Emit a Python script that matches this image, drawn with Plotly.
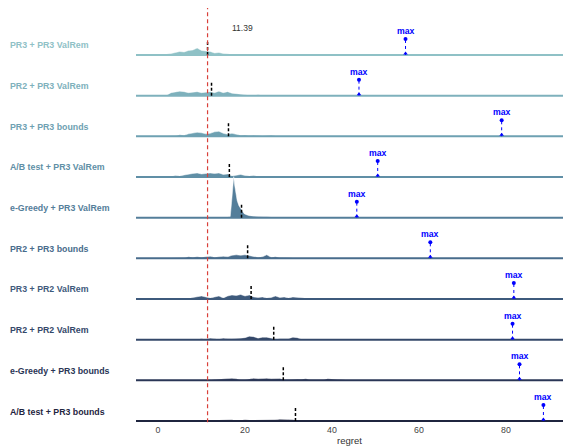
import plotly.graph_objects as go

# ---------------- data ----------------
labels = [
    "PR3 + PR3 ValRem", "PR2 + PR3 ValRem", "PR3 + PR3 bounds", "A/B test + PR3 ValRem",
    "e-Greedy + PR3 ValRem", "PR2 + PR3 bounds", "PR3 + PR2 ValRem", "PR2 + PR2 ValRem",
    "e-Greedy + PR3 bounds", "A/B test + PR3 bounds",
]
row_colors = ["#8fc1c6", "#7eb1bc", "#6ea1b2", "#608fa6", "#547e9a",
              "#486c8c", "#3e5a7c", "#34486a", "#2a3656", "#1f253f"]
mean_regret = [11.39, 12.3, 16.2, 16.4, 19.2, 20.6, 21.4, 26.6, 28.8, 31.6]
max_regret = [56.9, 46.2, 79.0, 50.5, 45.7, 62.6, 81.8, 81.5, 83.1, 88.6]
tick_values = [0, 20, 40, 60, 80]

# relative density (shared regret grid 0..46)
regret_grid = list(range(47))
dens_pr3_pr3_valrem = [0, 0.3, 1, 1.5, 2.5, 3.5, 3, 4.5, 5, 7, 4.5, 4, 3.5, 2, 2.5, 1.5, 1, 1.2, 0.5, 0.8,
                       0.4, 1, 0.2, 0, 0.3, 0, 0, 0, 0, 0, 0, 0, 0, 0, 0, 0, 0, 0, 0, 0,
                       0, 0, 0, 0, 0, 0, 0]
dens_pr2_pr3_valrem = [0, 0, 0.5, 3, 3.5, 4.5, 4, 3, 3.5, 4, 3, 3.5, 4, 3, 4.5, 3, 4, 2.5, 2, 1,
                       0.5, 0.5, 0.3, 0.8, 0.3, 0.2, 0.5, 0.2, 0.3, 0, 0, 0, 0, 0, 0, 0, 0, 0, 0, 0,
                       0, 0, 0, 0, 0, 0, 0]
dens_pr3_pr3_bounds = [0, 0, 0, 0, 0.5, 1.5, 1, 2.5, 3, 4, 3.5, 2.5, 3, 4.5, 5, 3, 2, 3, 2, 1,
                       1.2, 0.7, 1, 0.5, 0.3, 0.5, 1, 0.3, 0.2, 0, 0, 0, 0, 0, 0, 0, 0, 0, 0, 0,
                       0, 0, 0, 0, 0, 0, 0]
dens_ab_pr3_valrem = [0, 0, 0, 0.5, 1.5, 1, 2, 3, 3.5, 4, 3, 3.5, 4, 3.5, 4, 2.5, 3, 1, 2, 2.5,
                      1.5, 1, 1.5, 0.5, 0.3, 0.5, 0.2, 0.3, 0, 0, 0, 0, 0, 0, 0, 0, 0, 0, 0, 0,
                      0, 0, 0, 0, 0, 0, 0]
dens_pr2_pr3_bounds = [0, 0, 0, 0, 0, 0, 0.5, 1.5, 1, 1.5, 1, 1.5, 2, 1, 1.5, 2, 1.5, 3, 3.5, 3,
                       3.5, 2.5, 2, 1, 1.5, 3.5, 1, 1.5, 0.8, 0.3, 0.5, 0.2, 0.3, 0.2, 0.3, 0.1, 0, 0, 0, 0,
                       0, 0, 0, 0, 0, 0, 0]
dens_pr3_pr2_valrem = [0, 0, 0, 0, 0, 0, 0, 0.5, 1.5, 2.5, 3, 2, 1, 2, 3, 1, 3, 4, 3.5, 4.5,
                       3, 4, 2, 1.5, 2, 1, 1.5, 3, 1.5, 2, 1, 2, 1.5, 0.8, 0.8, 0.5, 0.7, 0.3, 0.3, 0.2,
                       0.3, 0.1, 0.2, 0.3, 0.3, 0, 0]
dens_pr2_pr2_valrem = [0, 0, 0, 0, 0, 0, 0, 0.3, 0.5, 0.5, 1, 0.5, 1.5, 1.2, 0.5, 1.5, 0.8, 1, 1, 1.5,
                       2, 3.5, 3, 1.5, 2.5, 2.5, 1.5, 0.5, 1, 0.8, 1, 2.5, 2, 0.5, 0.3, 0.2, 0.2, 0.1, 0.2, 0.1,
                       0.2, 0.1, 0.3, 0, 0, 0, 0]
dens_egreedy_pr3_bounds = [0, 0, 0, 0, 0, 0, 0, 0, 0, 0, 0, 0, 0.2, 0.8, 1.2, 1, 1.5, 2, 1.5, 0.5,
                           0.5, 1.5, 2, 1.5, 2, 2, 1.5, 2, 1.8, 0.5, 0.8, 1.5, 1.2, 1, 1.5, 0.5, 0.5, 0.3, 0.6, 1.5,
                           1.2, 0.3, 0, 0, 0, 0, 0]
dens_ab_pr3_bounds = [0, 0, 0, 0, 0, 0, 0, 0, 0, 0, 0, 0.3, 0.5, 0.3, 1, 1.2, 0.8, 1.2, 0.5, 1,
                      1.2, 1, 1, 0.8, 1.2, 0.8, 1, 1.2, 1.8, 2, 1.5, 1.2, 0.5, 1, 0.5, 0.3, 0.3, 0.8, 0.3, 0.2,
                      0.3, 0.8, 0.3, 0.6, 0.3, 0.5, 0]
# e-Greedy + PR3 ValRem has a narrow spike -> its own finer grid
egreedy_valrem_grid = [14, 15, 16, 16.6, 16.9, 17.2, 17.4, 17.6, 17.9, 18.2, 18.6, 19.0, 19.4, 19.8,
                       20.3, 21, 22, 23, 24, 25, 26, 27, 28, 30]
dens_egreedy_pr3_valrem = [0, 0.3, 0.5, 1, 15, 36, 41, 33, 22, 17, 12, 9, 7, 4,
                           3, 2, 1.5, 1, 0.8, 1, 0.5, 0.4, 0.2, 0]

row_grids = [regret_grid] * 4 + [egreedy_valrem_grid] + [regret_grid] * 5
row_dens = [dens_pr3_pr3_valrem, dens_pr2_pr3_valrem, dens_pr3_pr3_bounds, dens_ab_pr3_valrem,
            dens_egreedy_pr3_valrem, dens_pr2_pr3_bounds, dens_pr3_pr2_valrem, dens_pr2_pr2_valrem,
            dens_egreedy_pr3_bounds, dens_ab_pr3_bounds]

# ---------------- layout geometry ----------------
W, H = 563, 446
ML, MB = 136, 23
plot_h = H - MB
row_px = 40.67          # pixels between ridge baselines
last_base_px = 421      # pixel y of the lowest baseline
y_max = last_base_px / row_px
y_min = y_max - plot_h / row_px
x_range = [-5.06, 93.1]
FONT = "Liberation Sans, Arial, sans-serif"
n = len(labels)

fig = go.Figure()
annotations = []
for i in range(n):
    base = n - 1 - i
    xs = row_grids[i]
    top = [base + d / row_px for d in row_dens[i]]
    c = row_colors[i]
    fig.add_trace(go.Scatter(x=list(xs) + list(xs)[::-1], y=top + [base] * len(xs),
                             fill="toself", fillcolor=c, mode="lines", line=dict(width=0),
                             hoverinfo="skip", showlegend=False))
    fig.add_trace(go.Scatter(x=xs, y=top, mode="lines", line=dict(color="white", width=0.5),
                             hoverinfo="skip", showlegend=False))
    fig.add_trace(go.Scatter(x=x_range, y=[base, base], mode="lines", line=dict(color=c, width=2),
                             hoverinfo="skip", showlegend=False))
    # mean marker
    m = mean_regret[i]
    fig.add_trace(go.Scatter(x=[m, m], y=[base, base + 14 / row_px], mode="lines",
                             line=dict(color="black", width=1.5, dash="3px,2px"),
                             hoverinfo="skip", showlegend=False))
    # max marker
    mx = max_regret[i]
    mtop = base + 16 / row_px
    fig.add_trace(go.Scatter(x=[mx, mx], y=[base, mtop], mode="lines",
                             line=dict(color="blue", width=1, dash="dot"),
                             hoverinfo="skip", showlegend=False))
    fig.add_trace(go.Scatter(x=[mx], y=[mtop], mode="markers",
                             marker=dict(color="blue", size=4, symbol="circle"),
                             hoverinfo="skip", showlegend=False))
    fig.add_trace(go.Scatter(x=[mx], y=[base + 1.5 / row_px], mode="markers",
                             marker=dict(color="blue", size=4, symbol="triangle-up"),
                             hoverinfo="skip", showlegend=False))
    annotations.append(dict(x=mx, y=mtop, xref="x", yref="y", yshift=8, text="<b>max</b>",
                            showarrow=False, font=dict(color="blue", size=8.7, family=FONT)))
    annotations.append(dict(x=(8 - ML) / (W - ML), xref="paper", xanchor="left",
                            y=base + 9.5 / row_px, yref="y", yanchor="middle",
                            text="<b>" + labels[i] + "</b>", showarrow=False,
                            font=dict(color=c, size=8.8, family=FONT)))

best = min(mean_regret)
shapes = [dict(type="line", xref="x", yref="y", x0=best, x1=best,
               y0=y_min + 0.02, y1=y_max - 8 / row_px,
               line=dict(color="#d9403a", width=1.2, dash="4px,3px"), layer="above")]
annotations.append(dict(x=best, y=y_max - 28 / row_px, xref="x", yref="y", xshift=35,
                        text=f"{best:.2f}", showarrow=False,
                        font=dict(color="#333333", size=8.5, family=FONT)))
annotations.append(dict(x=0.5, xref="paper", y=-(440 - plot_h) / plot_h, yref="paper",
                        yanchor="middle", text="regret", showarrow=False,
                        font=dict(color="#333333", size=9.5, family=FONT)))

fig.update_layout(
    width=W, height=H,
    margin=dict(l=ML, r=0, t=0, b=MB, pad=0),
    paper_bgcolor="white", plot_bgcolor="white",
    showlegend=False,
    shapes=shapes, annotations=annotations,
    xaxis=dict(range=x_range, tickvals=tick_values, showgrid=False, zeroline=False,
               showline=False, ticks="", tickfont=dict(size=8.8, color="#444444", family=FONT)),
    yaxis=dict(range=[y_min, y_max], visible=False, showgrid=False, zeroline=False),
)
fig.write_html("out.html")
